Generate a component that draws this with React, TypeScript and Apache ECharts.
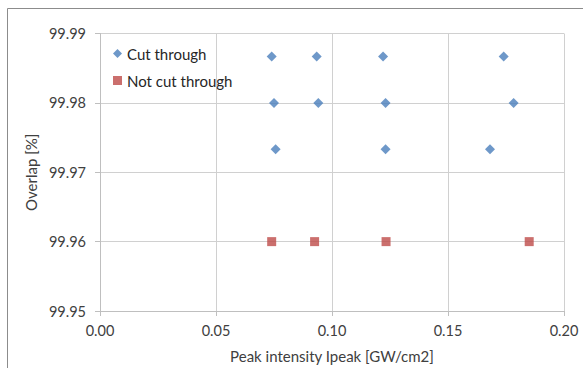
import React, { useEffect, useRef } from "react";
import * as echarts from "echarts";

const cutThroughX = [0.074, 0.0934, 0.122, 0.174, 0.075, 0.0941, 0.1231, 0.1783, 0.0757, 0.1231, 0.1681];
const cutThroughY = [99.98667, 99.98667, 99.98667, 99.98667, 99.98, 99.98, 99.98, 99.98, 99.97333, 99.97333, 99.97333];
const notCutX = [0.074, 0.0925, 0.1233, 0.185];
const notCutY = [99.96, 99.96, 99.96, 99.96];

const FONT = "Lato, 'Open Sans', sans-serif";

export default function App() {
  const ref = useRef<HTMLDivElement>(null);
  useEffect(() => {
    const chart = echarts.init(ref.current!, null, { renderer: "svg" });
    chart.setOption({
      animation: false,
      backgroundColor: "#ffffff",
      textStyle: { fontFamily: FONT },
      graphic: [
        {
          type: "rect",
          shape: { x: 7.5, y: 8.5, width: 700, height: 500 },
          style: { fill: "none", stroke: "#8c8c8c", lineWidth: 1 },
          silent: true,
        },
      ],
      grid: { left: 100, right: 19, top: 33.5, bottom: 57 },
      legend: {
        orient: "vertical",
        left: 108,
        top: 41,
        itemGap: 12,
        itemWidth: 9,
        itemHeight: 9,
        textStyle: { fontFamily: FONT, fontSize: 15, color: "#262626" },
        data: [
          { name: "Cut through", icon: "diamond" },
          { name: "Not cut through", icon: "rect" },
        ],
      },
      xAxis: {
        type: "value",
        min: 0,
        max: 0.2,
        interval: 0.05,
        name: "Peak intensity Ipeak [GW/cm2]",
        nameLocation: "middle",
        nameGap: 37,
        nameTextStyle: { fontFamily: FONT, fontSize: 15, color: "#404040" },
        axisLine: { show: true, lineStyle: { color: "#bfbfbf" } },
        axisTick: { show: true, length: 5, lineStyle: { color: "#bfbfbf" } },
        axisLabel: {
          fontFamily: FONT,
          fontSize: 14.5,
          color: "#404040",
          margin: 12,
          formatter: (v: number) => v.toFixed(2),
        },
        splitLine: { show: true, lineStyle: { color: "#d0d0d0" } },
      },
      yAxis: {
        type: "value",
        min: 99.95,
        max: 99.99,
        interval: 0.01,
        name: "Overlap [%]",
        nameLocation: "middle",
        nameGap: 62,
        nameTextStyle: { fontFamily: FONT, fontSize: 15, color: "#404040" },
        axisLine: { show: true, lineStyle: { color: "#bfbfbf" } },
        axisTick: { show: true, length: 5, lineStyle: { color: "#bfbfbf" } },
        axisLabel: {
          fontFamily: FONT,
          fontSize: 14.5,
          color: "#404040",
          margin: 14,
          formatter: (v: number) => v.toFixed(2),
        },
        splitLine: { show: true, lineStyle: { color: "#d0d0d0" } },
      },
      series: [
        {
          name: "Cut through",
          type: "scatter",
          symbol: "diamond",
          symbolSize: [10, 10],
          itemStyle: { color: "#4a7ebb" },
          data: cutThroughX.map((x, i) => [x, cutThroughY[i]]),
        },
        {
          name: "Not cut through",
          type: "scatter",
          symbol: "rect",
          symbolSize: [9, 9],
          itemStyle: { color: "#be4b48" },
          data: notCutX.map((x, i) => [x, notCutY[i]]),
        },
      ],
    });
    return () => chart.dispose();
  }, []);
  return <div ref={ref} style={{ width: 583, height: 368, position: "absolute", left: 0, top: 0 }} />;
}
